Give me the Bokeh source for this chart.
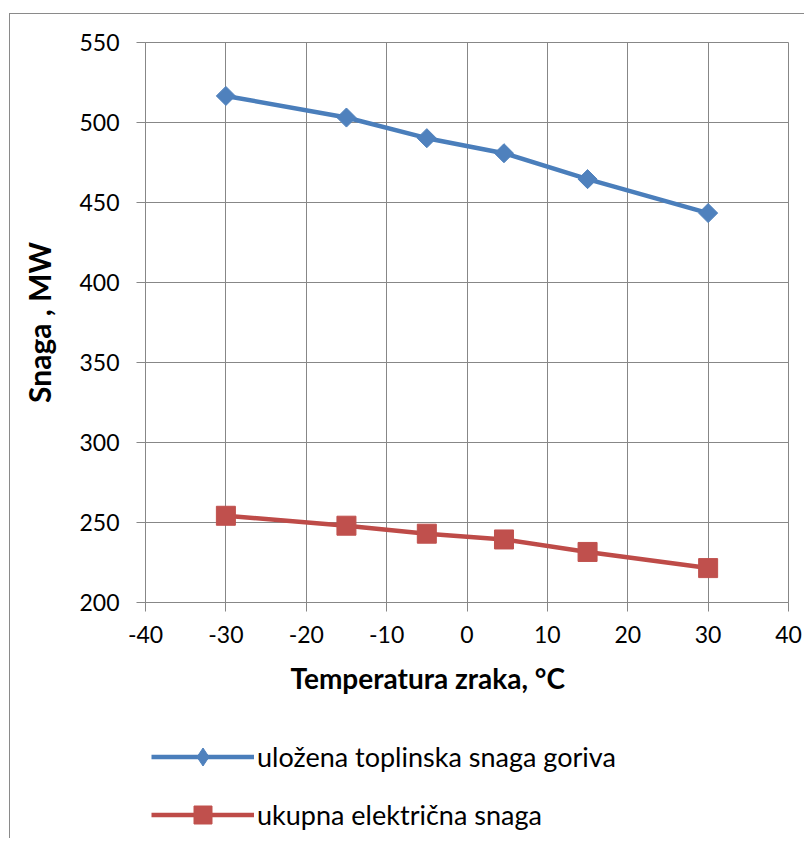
import numpy as np
from bokeh.plotting import figure
from bokeh.layouts import column
from bokeh.models import (FixedTicker, Legend, LegendItem, Title, Range1d)
from bokeh.embed import file_html
from bokeh.resources import INLINE

# ---- data ----
temperature = [-30, -15, -5, 4.6, 15, 30]
fuel_power = [516.6, 503.1, 490.2, 480.8, 464.6, 443.4]
electric_power = [254.2, 248.0, 243.0, 239.4, 231.6, 221.5]
series_names = ["uložena toplinska snaga goriva", "ukupna električna snaga"]
x_ticks = [-40, -30, -20, -10, 0, 10, 20, 30, 40]
x_tick_labels = ["-40", "-30", "-20", "-10", "0", "10", "20", "30", "40"]
y_ticks = [200, 250, 300, 350, 400, 450, 500, 550]
x_title = "Temperatura zraka, °C"
y_title = "Snaga , MW"

FONT = "Lato"
GRID = "#878787"
BLUE = "#4A7EBB"
BLUE_FILL = "#4F81BD"
RED = "#BE4B48"
RED_FILL = "#C0504D"

line_kw = [dict(line_color=BLUE, line_width=4.5), dict(line_color=RED, line_width=4.5)]
mark_kw = [dict(marker="square", angle=np.pi / 4, size=13.5, fill_color=BLUE_FILL, line_color=BLUE_FILL),
           dict(marker="square", angle=0.0, size=19, fill_color=RED_FILL, line_color=RED_FILL)]
legend_mark_kw = [dict(marker="diamond", size=18, fill_color=BLUE_FILL, line_color=BLUE_FILL),
                  dict(marker="square", size=18, fill_color=RED_FILL, line_color=RED_FILL)]
series = [fuel_power, electric_power]

# ---------------- main chart ----------------
p = figure(frame_width=643, frame_height=560,
           min_border_left=135, min_border_right=16,
           min_border_top=28, min_border_bottom=120,
           x_range=Range1d(-40, 40), y_range=Range1d(200, 550),
           output_backend="svg", toolbar_location=None,
           background_fill_color="white", border_fill_color="white")

p.outline_line_color = GRID
p.outline_line_width = 1

for ax in (p.xaxis[0], p.yaxis[0]):
    ax.axis_line_color = GRID
    ax.major_tick_line_color = GRID
    ax.major_tick_out = 9
    ax.major_tick_in = 0
    ax.minor_tick_line_color = None
    ax.major_label_text_font = FONT
    ax.major_label_text_font_size = "23px"
    ax.major_label_text_color = "black"

p.xaxis.ticker = FixedTicker(ticks=x_ticks)
p.xaxis.major_label_overrides = {t: s for t, s in zip(x_ticks, x_tick_labels)}
p.yaxis.ticker = FixedTicker(ticks=y_ticks)
p.xaxis.major_label_standoff = 14
p.yaxis.major_label_standoff = 17

p.yaxis.axis_label = y_title
p.yaxis.axis_label_text_font = FONT
p.yaxis.axis_label_text_font_size = "30px"
p.yaxis.axis_label_text_font_style = "bold"
p.yaxis.axis_label_text_color = "black"
p.yaxis.axis_label_standoff = 19

p.xgrid.ticker = FixedTicker(ticks=x_ticks)
p.ygrid.ticker = FixedTicker(ticks=y_ticks)
p.grid.grid_line_color = GRID
p.grid.grid_line_width = 1

for ys, lk, mk in zip(series, line_kw, mark_kw):
    p.line(temperature, ys, **lk)
    p.scatter(temperature, ys, **mk)

xt = Title(text=x_title, align="left", offset=145, standoff=27,
           text_font=FONT, text_font_size="28px", text_font_style="bold",
           text_color="black")
p.add_layout(xt, "below")

# ---------------- legend strip below the chart ----------------
lf = figure(width=794, height=116, x_range=Range1d(1000, 1001), y_range=Range1d(1000, 1001),
            x_axis_type=None, y_axis_type=None, min_border=0,
            output_backend="svg", toolbar_location=None,
            background_fill_color="white", border_fill_color="white")
lf.outline_line_color = None
lf.grid.visible = False

items = []
for name, ys, lk, mk in zip(series_names, series, line_kw, legend_mark_kw):
    r1 = lf.line(temperature, ys, **lk)
    r2 = lf.scatter(temperature, ys, **mk)
    items.append(LegendItem(label=name, renderers=[r1, r2]))

legend = Legend(items=items, location=(6, 1), orientation="vertical",
                glyph_width=103, glyph_height=45, label_height=45,
                label_standoff=3, spacing=13, padding=0, margin=0,
                label_text_font=FONT, label_text_font_size="27px",
                label_text_color="black",
                border_line_color=None, background_fill_alpha=0)
lf.add_layout(legend, "center")

layout = column(p, lf, spacing=0)
layout.styles = {"border-left": "1px solid #8a8a8a", "border-top": "1px solid #8a8a8a"}
layout.margin = (13, 0, 0, 9)

open("out.html", "w").write(file_html(layout, INLINE))
